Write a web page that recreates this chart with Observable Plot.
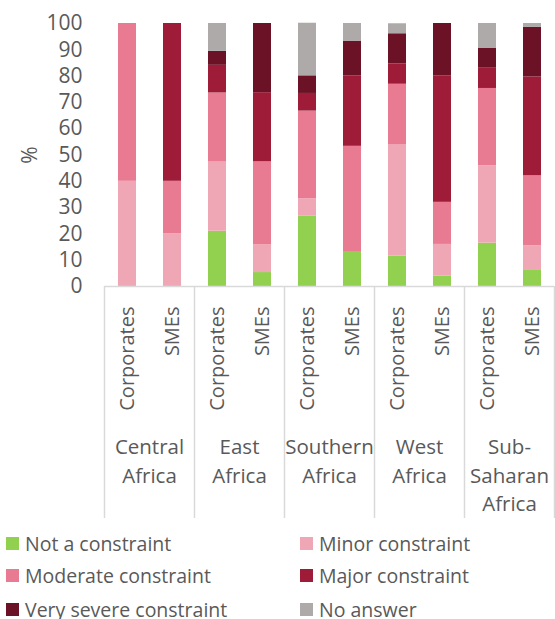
<!DOCTYPE html>
<html>
<head>
<meta charset="utf-8">
<script src="https://cdn.jsdelivr.net/npm/d3@7"></script>
<script src="https://cdn.jsdelivr.net/npm/@observablehq/plot@0.6"></script>
<style>
  html, body { margin: 0; padding: 0; background: #fff; }
  body { width: 555px; height: 619px; overflow: hidden; font-family: "Open Sans", sans-serif; color: #595959; }
  #legend { position: relative; height: 99px; }
  .item { position: absolute; display: flex; align-items: center; font-size: 19.5px; white-space: nowrap; }
  .sw { width: 13px; height: 13px; margin-right: 6px; flex: none; }
</style>
</head>
<body>
<div id="chart"></div>
<div id="legend"></div>
<script>
const regions = ["Central Africa", "East Africa", "Southern Africa", "West Africa", "Sub-Saharan Africa"];
const regionLabels = ["Central\nAfrica", "East\nAfrica", "Southern\nAfrica", "West\nAfrica", "Sub-\nSaharan\nAfrica"];
const firmTypes = ["Corporates", "SMEs"];
const constraints = ["Not a constraint", "Minor constraint", "Moderate constraint", "Major constraint", "Very severe constraint", "No answer"];
const colors = ["#92d050", "#f0a7b5", "#e87b91", "#9e1c38", "#6b1226", "#aeaaaa"];
const yTicks = [0, 10, 20, 30, 40, 50, 60, 70, 80, 90, 100];

// order: Central Corp, Central SMEs, East Corp, East SMEs, Southern Corp, Southern SMEs, West Corp, West SMEs, SSA Corp, SSA SMEs
const notConstraint = [0, 0, 21.0, 5.3, 26.7, 13.3, 11.5, 4.0, 16.5, 6.1];
const minorConstraint = [40, 20, 26.3, 10.5, 6.7, 0, 42.3, 12.0, 29.4, 9.4];
const moderateConstraint = [60, 20, 26.3, 31.6, 33.3, 40.0, 23.1, 16.0, 29.4, 26.6];
const majorConstraint = [0, 60, 10.5, 26.3, 6.7, 26.7, 7.7, 48.0, 7.7, 37.6];
const verySevereConstraint = [0, 0, 5.3, 26.3, 6.7, 13.3, 11.5, 20.0, 7.5, 18.8];
const noAnswer = [0, 0, 10.6, 0, 20.0, 6.7, 3.8, 0, 9.5, 1.5];

const series = [notConstraint, minorConstraint, moderateConstraint, majorConstraint, verySevereConstraint, noAnswer];

const data = [];
series.forEach((vals, si) => {
  vals.forEach((v, i) => {
    data.push({
      region: regions[Math.floor(i / 2)],
      type: firmTypes[i % 2],
      constraint: constraints[si],
      value: v
    });
  });
});

const FONT = 19.5;
const regionFormat = (d) => regionLabels[regions.indexOf(d)];
const plot = Plot.plot({
  width: 555,
  height: 520,
  marginLeft: 102,
  marginRight: 0,
  marginTop: 23,
  marginBottom: 234,
  style: { fontFamily: "'Open Sans', sans-serif", fontSize: FONT + "px", color: "#595959", background: "#fff" },
  fx: { domain: regions, padding: 0 },
  x: { domain: firmTypes, paddingInner: 0.6, paddingOuter: 0.3 },
  y: { domain: [0, 100] },
  color: { domain: constraints, range: colors },
  marks: [
    Plot.barY(data, { fx: "region", x: "type", y: "value", fill: "constraint", order: constraints }),
    Plot.ruleY([0], { stroke: "#d9d9d9", strokeWidth: 1.5 }),
    Plot.axisY({ ticks: yTicks, tickSize: 0, tickPadding: 22, fill: "#595959", fontSize: "21px",
      label: "%", labelAnchor: "center", labelOffset: 82, labelArrow: "none" }),
    Plot.axisX({ tickRotate: -90, tickSize: 0, tickPadding: 20, label: null, fill: "#595959", fontSize: "20px" }),
    Plot.axisFx({ anchor: "bottom", tickSize: 0, tickPadding: 147, label: null, tickFormat: regionFormat,
      fill: "#595959", fontSize: "20.5px", lineHeight: 1.4 })
  ]
});

// group dividers drawn from the fx / y scales
const fxS = plot.scale("fx");
const yS = plot.scale("y");
const edges = regions.map((r) => fxS.apply(r));
edges.push(fxS.apply(regions[regions.length - 1]) + fxS.bandwidth);
const svg = d3.select(plot);
const y0 = yS.apply(0);
svg.append("g").selectAll("line").data(edges).join("line")
  .attr("x1", (d) => Math.min(d, 554) + 0.5).attr("x2", (d) => Math.min(d, 554) + 0.5)
  .attr("y1", y0).attr("y2", 518)
  .attr("stroke", "#d9d9d9").attr("stroke-width", 1.5);

document.getElementById("chart").appendChild(plot);

// legend
const legend = document.getElementById("legend");
const legendPos = [[6, 23], [300, 23], [6, 55], [300, 55], [6, 89], [300, 89]];
constraints.forEach((c, i) => {
  const it = document.createElement("div");
  it.className = "item";
  it.style.left = legendPos[i][0] + "px";
  it.style.top = (legendPos[i][1] - 14) + "px";
  it.style.height = "28px";
  const sw = document.createElement("span");
  sw.className = "sw";
  sw.style.background = colors[i];
  const t = document.createElement("span");
  t.textContent = c;
  it.appendChild(sw);
  it.appendChild(t);
  legend.appendChild(it);
});
</script>
</body>
</html>
